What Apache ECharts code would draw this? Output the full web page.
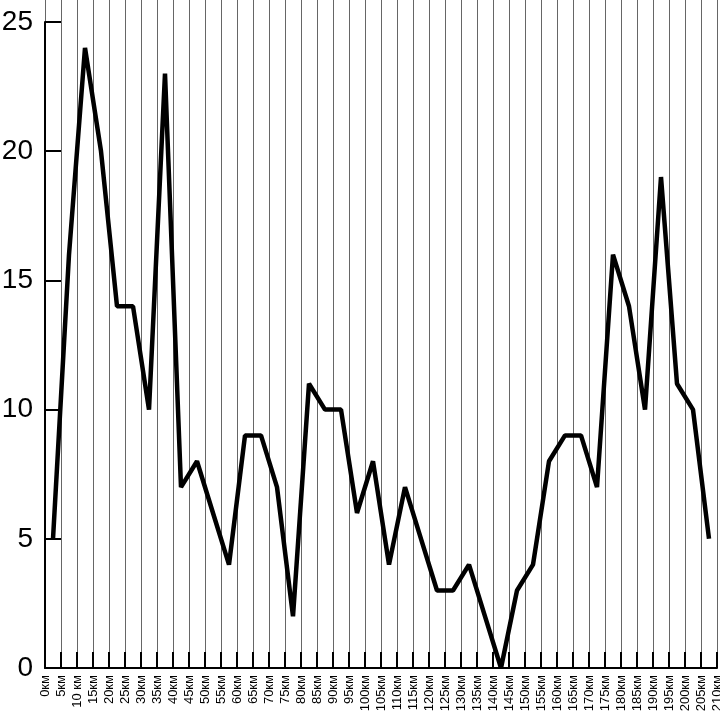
<!DOCTYPE html>
<html>
<head>
<meta charset="utf-8">
<script src="https://cdn.jsdelivr.net/npm/echarts@6/dist/echarts.min.js"></script>
<style>
html,body{margin:0;padding:0;background:#fff;}
#chart{width:720px;height:713px;}
</style>
</head>
<body>
<div id="chart"></div>
<script>
// Distance tick labels (boundaries of each 5 km segment)
const tickLabels = ["0км","5км","10 км","15км","20км","25км","30км","35км","40км","45км","50км","55км","60км","65км","70км","75км","80км","85км","90км","95км","100км","105км","110км","115км","120км","125км","130км","135км","140км","145км","150км","155км","160км","165км","170км","175км","180км","185км","190км","195км","200км","205км","210км"];
// One value per 5 km segment (plotted at the segment middle)
const segmentValues = [5,16,24,20,14,14,10,23,7,8,6,4,9,9,7,2,11,10,10,6,8,4,7,5,3,3,4,2,0,3,4,8,9,9,7,16,14,10,19,11,10,5];
// Y axis ticks
const yMin = 0, yMax = 25, yStep = 5;

const segmentNames = tickLabels.slice(0, -1).map((t, i) => t + "–" + tickLabels[i + 1]);

const chart = echarts.init(document.getElementById('chart'), null, {renderer: 'canvas'});
const font = '"Liberation Sans", Arial, Helvetica, sans-serif';
const gridColor = '#666666';

chart.setOption({
  backgroundColor: '#ffffff',
  animation: false,
  grid: [
    {left: 45, right: 3, top: 22, bottom: 45, containLabel: false, outerBoundsMode: 'none'},
    {left: 45, right: 3, top: 0, height: 22, containLabel: false, outerBoundsMode: 'none'}
  ],
  xAxis: [
    {
      type: 'category', gridIndex: 0, data: tickLabels, boundaryGap: false,
      axisLine: {show: true, lineStyle: {color: '#000', width: 2}},
      axisTick: {show: true, inside: true, length: 16, lineStyle: {color: '#000', width: 2}},
      axisLabel: {show: true, rotate: 90, interval: 0, margin: 7, fontSize: 13, color: '#000', fontFamily: font, hideOverlap: false},
      splitLine: {show: true, interval: 0, lineStyle: {color: gridColor, width: 1}}
    },
    {
      type: 'category', gridIndex: 0, data: segmentNames, boundaryGap: true, show: false
    },
    {
      type: 'category', gridIndex: 1, data: tickLabels, boundaryGap: false,
      axisLine: {show: false}, axisTick: {show: false}, axisLabel: {show: false},
      splitLine: {show: true, interval: 0, lineStyle: {color: gridColor, width: 1}}
    }
  ],
  yAxis: [
    {
      type: 'value', gridIndex: 0, min: yMin, max: yMax, interval: yStep,
      axisLine: {show: true, lineStyle: {color: '#000', width: 2}},
      axisTick: {show: true, inside: true, length: 16, lineStyle: {color: '#000', width: 2}},
      axisLabel: {show: true, margin: 12, fontSize: 28, color: '#000', fontFamily: font},
      splitLine: {show: false}
    },
    {
      type: 'value', gridIndex: 1, min: 0, max: 1, show: false, splitLine: {show: false}
    }
  ],
  series: [
    {
      type: 'line', xAxisIndex: 1, yAxisIndex: 0, data: segmentValues,
      symbol: 'none', showSymbol: false, clip: false,
      lineStyle: {color: '#000', width: 4.5}
    }
  ]
});
</script>
</body>
</html>
